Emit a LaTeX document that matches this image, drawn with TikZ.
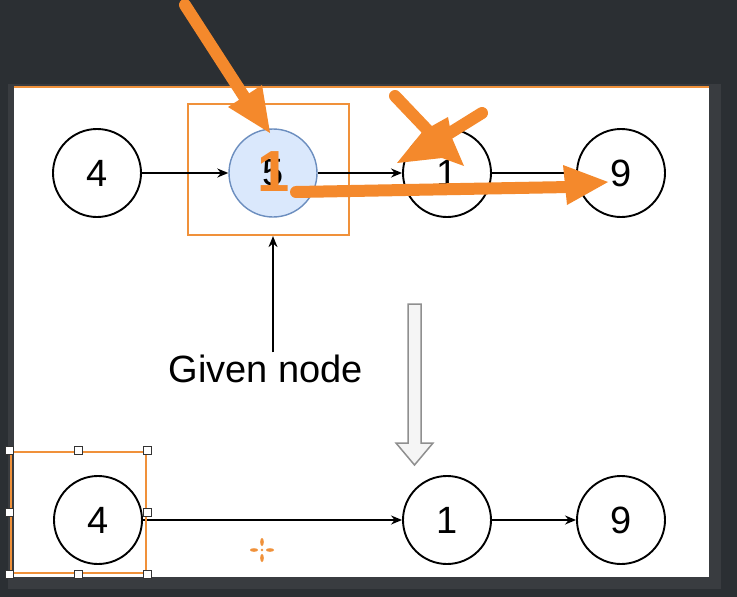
\documentclass[tikz,border=0pt]{standalone}
\usepackage{fontspec}
\setmainfont{Liberation Sans}
\usetikzlibrary{arrows.meta}
\definecolor{bgdark}{HTML}{2B2F33}
\definecolor{bgband}{HTML}{393C40}
\definecolor{annot}{HTML}{F4892C}
\definecolor{selor}{HTML}{F0913A}
\definecolor{nodefill}{HTML}{DAE8FC}
\definecolor{nodeline}{HTML}{6C8EBF}
\definecolor{hollowfill}{HTML}{F5F5F5}
\definecolor{hollowline}{HTML}{8F8F8F}
\begin{document}
\begin{tikzpicture}[x=1pt,y=-1pt,
  listnode/.style={circle,draw=black,line width=1.9pt,minimum size=88pt,inner sep=0pt,fill=white,font=\fontsize{38}{40}\selectfont},
  link/.style={line width=1.6pt,-{Stealth[length=11pt,width=9pt]}},
  annotline/.style={draw=annot,line width=12pt,line cap=round},
  annothead/.style={fill=annot},
  grip/.style={rectangle,draw=black!80,fill=white,line width=1pt,minimum size=8pt,inner sep=0pt}
]
\useasboundingbox (0,0) rectangle (737,597);
% backdrop
\fill[bgdark] (0,0) rectangle (737,597);
\fill[bgband] (8,84) rectangle (721,589);
\fill[white] (14,87) rectangle (709,577);
\draw[selor,line width=2pt] (14,87) -- (709,87);

% nodes, top row
\node[listnode] (a4) at (97,173) {4};
\node[listnode,fill=nodefill,draw=nodeline,line width=1.4pt] (a5) at (273,173) {5};
\node[listnode] (a1) at (447,173) {1};
\node[listnode] (a9) at (621,173) {9};
% nodes, bottom row
\node[listnode] (b4) at (98,520) {4};
\node[listnode] (b1) at (447,520) {1};
\node[listnode] (b9) at (621,520) {9};

% highlight box around the given node
\node[draw=selor,line width=2.2pt,minimum width=161pt,minimum height=131pt,inner sep=0pt] (sel5) at (268.5,169.5) {};

% label
\node[anchor=base,font=\fontsize{38}{40}\selectfont,inner sep=2pt] (given) at (266,382) {Given node};

% links
\draw[link] (a4) -- (a5);
\draw[link] (a5) -- (a1);
\draw[link] (a1) -- (a9);
\draw[link] (b4) -- (b1);
\draw[link] (b1) -- (b9);
\draw[link] (given.north -| a5) -- (sel5.south -| a5);

% hollow down arrow
\draw[fill=hollowfill,draw=hollowline,line width=1.5pt,line join=miter]
  (408,304) -- (421,304) -- (421,443) -- (433,443) -- (414.5,465) -- (396,443) -- (408,443) -- cycle;

% selection frame with grips
\node[draw=selor,line width=2.4pt,minimum width=135pt,minimum height=121pt,inner sep=0pt] (selb4) at (78.5,512.5) {};
\foreach \a in {north west,north,north east,west,east,south west,south,south east}
  \node[grip] at (selb4.\a) {};

% move cursor
\coordinate (cur) at (262,550);
\fill[selor] ([xshift=-8pt]cur) ellipse [x radius=4pt, y radius=1.8pt];
\fill[selor] ([xshift=8pt]cur) ellipse [x radius=4pt, y radius=1.8pt];
\fill[selor] ([yshift=8pt]cur) ellipse [x radius=1.8pt, y radius=4pt];
\fill[selor] ([yshift=-8pt]cur) ellipse [x radius=1.8pt, y radius=4pt];
\fill[selor] (cur) circle [radius=1.3pt];

% hand-drawn orange annotations
\node[text=annot,font=\fontsize{58}{60}\selectfont\bfseries,inner sep=0pt] (one) at (274,172) {1};
\draw[annotline] (185,5) -- (245,98);
\fill[annothead] (228,107) -- (262,85) -- (270,133) -- cycle;
\draw[annotline] (395,96) -- (435,138);
\draw[annotline] (482,113) -- (445,136);
\fill[annothead] (397,163) -- (423,131) -- (448,117) -- (452,138) -- (464,166) -- (442,158) -- cycle;
\draw[annotline] (296,192) -- (570,187);
\fill[annothead] (563,165) -- (608,182) -- (567,205) -- cycle;
\end{tikzpicture}
\end{document}
